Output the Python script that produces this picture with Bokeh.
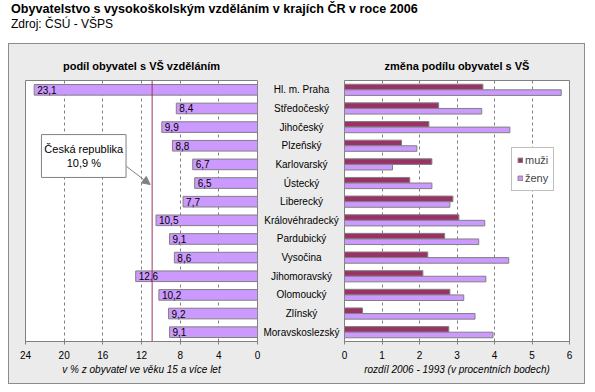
from bokeh.plotting import figure
from bokeh.models import (Range1d, FactorRange, FixedTicker, Span, BoxAnnotation,
                          Label, Arrow, NormalHead, ColumnDataSource, Div)
from bokeh.layouts import row, column
from bokeh.transform import dodge
from bokeh.embed import file_html
from bokeh.resources import INLINE
from bokeh.core.properties import value

# ---------------- data ----------------
title_text = "Obyvatelstvo s vysokoškolským vzděláním v krajích ČR v roce 2006"
source_text = "Zdroj: ČSÚ - VŠPS"
left_title = "podíl obyvatel s VŠ vzděláním"
right_title = "změna podílu obyvatel s VŠ"
left_axis_label = "v % z obyvatel ve věku 15 a více let"
right_axis_label = "rozdíl 2006 - 1993 (v procentních bodech)"

regions = ["Hl. m. Praha", "Středočeský", "Jihočeský", "Plzeňský", "Karlovarský",
           "Ústecký", "Liberecký", "Královéhradecký", "Pardubický", "Vysočina",
           "Jihomoravský", "Olomoucký", "Zlínský", "Moravskoslezský"]
podil = [23.1, 8.4, 9.9, 8.8, 6.7, 6.5, 7.7, 10.5, 9.1, 8.6, 12.6, 10.2, 9.2, 9.1]
zmena_muzi = [3.69, 2.51, 2.25, 1.52, 2.33, 1.74, 2.89, 3.05, 2.67, 2.22, 2.09, 2.81, 0.48, 2.78]
zmena_zeny = [5.78, 3.66, 4.41, 1.93, 1.28, 2.33, 2.81, 3.74, 3.58, 4.38, 3.77, 3.18, 3.48, 3.96]
cr_value = 10.9
cr_name = "Česká republika"
left_ticks = [0, 4, 8, 12, 16, 20, 24]
right_ticks = [0, 1, 2, 3, 4, 5, 6]
series_names = ["muži", "ženy"]

# ---------------- styles ----------------
FONT = "Liberation Sans"
LAV = "#cc99ff"
MAG = "#993366"
GRAY = "#808080"
BOX_BG = "#ebebeb"

def fmt(v):
    return f"{v:.1f}".replace(".", ",")

src = ColumnDataSource(dict(region=regions, podil=podil, label=[fmt(v) for v in podil],
                            muzi=zmena_muzi, zeny=zmena_zeny))

yr = FactorRange(factors=regions[::-1], range_padding=0)

H = 339
TOP = 36
BOT = 42


def style_fig(p, ticks, axis_label):
    p.background_fill_color = "white"
    p.border_fill_color = BOX_BG
    p.outline_line_color = GRAY
    p.outline_line_width = 1
    p.yaxis.visible = False
    p.ygrid.visible = False
    p.xaxis.ticker = FixedTicker(ticks=ticks)
    p.xaxis.axis_label = axis_label
    p.xaxis.axis_label_text_font_style = "italic"
    p.xaxis.axis_label_text_font_size = "10px"
    p.xaxis.axis_label_text_font = FONT
    p.xaxis.axis_label_text_color = "black"
    p.xaxis.axis_label_standoff = 2
    p.xaxis.major_label_text_font_size = "10px"
    p.xaxis.major_label_text_font = FONT
    p.xaxis.major_label_text_color = "black"
    p.xaxis.major_label_standoff = 6
    p.xaxis.axis_line_color = GRAY
    p.xaxis.major_tick_line_color = GRAY
    p.xaxis.minor_tick_line_color = None
    p.xaxis.major_tick_in = 0
    p.xaxis.major_tick_out = 3
    p.xgrid.grid_line_color = GRAY
    p.xgrid.grid_line_dash = "3 3"
    p.title.align = "center"
    p.title.padding = 4
    p.title.text_font = FONT
    p.title.text_font_size = "11px"
    p.title.text_font_style = "bold"
    p.title.text_color = "black"


# ---------------- left panel ----------------
left = figure(width=253, height=H, x_range=Range1d(24, 0), y_range=yr,
              output_backend="svg", toolbar_location=None, title=left_title,
              min_border_left=16, min_border_right=5, min_border_top=TOP, min_border_bottom=BOT)
style_fig(left, left_ticks, left_axis_label)

left.hbar(y="region", left=0, right="podil", height=0.57, fill_color=LAV,
          line_color=GRAY, line_width=1, source=src)
left.text(x="podil", y="region", text="label", x_offset=3, text_align="left",
          text_baseline="middle", text_font_size="10px", text_font=value(FONT),
          text_color="black", source=src)

left.add_layout(Span(location=cr_value, dimension="height", line_color=MAG, line_width=1))

left.add_layout(BoxAnnotation(left=22.35, right=13.6, bottom=8.80, top=11.10,
                              fill_color="white", fill_alpha=1.0,
                              line_color=GRAY, line_width=1, line_alpha=1.0))
left.add_layout(Label(x=17.97, y=9.95, text=f"{cr_name}\n{fmt(cr_value)} %",
                      text_align="center", text_baseline="middle",
                      text_font_size="11px", text_font=FONT, text_color="black"))
left.add_layout(Arrow(end=NormalHead(size=8, fill_color=GRAY, line_color=GRAY),
                      x_start=13.55, y_start=9.39, x_end=11.1, y_end=8.42,
                      line_color=GRAY, line_width=1))

# ---------------- middle labels ----------------
mid = figure(width=78, height=H, x_range=Range1d(0, 1), y_range=yr,
             output_backend="svg", toolbar_location=None,
             min_border_left=0, min_border_right=0, min_border_top=TOP, min_border_bottom=BOT)
mid.axis.visible = False
mid.grid.visible = False
mid.outline_line_color = None
mid.background_fill_color = BOX_BG
mid.border_fill_color = BOX_BG
mid.text(x=0.5, y="region", text="region", text_align="center", text_baseline="middle",
         text_font_size="10px", text_font=value(FONT), text_color="black", source=src)

# ---------------- right panel ----------------
right = figure(width=244, height=H, x_range=Range1d(0, 6), y_range=yr,
               output_backend="svg", toolbar_location=None, title=right_title,
               min_border_left=4, min_border_right=15, min_border_top=TOP, min_border_bottom=BOT)
style_fig(right, right_ticks, right_axis_label)

right.hbar(y=dodge("region", 0.15, range=yr), left=0, right="muzi", height=0.3,
           fill_color=MAG, line_color=GRAY, line_width=1, source=src,
           legend_label=series_names[0])
right.hbar(y=dodge("region", -0.15, range=yr), left=0, right="zeny", height=0.3,
           fill_color=LAV, line_color=GRAY, line_width=1, source=src,
           legend_label=series_names[1])

lg = right.legend[0]
lg.location = (167, 150)
lg.background_fill_color = "white"
lg.background_fill_alpha = 1.0
lg.border_line_color = GRAY
lg.border_line_width = 1
lg.label_text_font = FONT
lg.label_text_font_size = "11px"
lg.label_height = 14
lg.glyph_height = 6
lg.glyph_width = 6
lg.label_standoff = 2
lg.spacing = 4
lg.padding = 5
lg.margin = 0

# ---------------- page ----------------
head = Div(text=(
    '<div style="padding-top:1px; padding-left:11px; '
    'font-family:\'Liberation Sans\', Arial, sans-serif; color:black; white-space:nowrap">'
    f'<div style="font-weight:bold; font-size:12.6px; line-height:16px">{title_text}</div>'
    f'<div style="font-size:12px; line-height:15px">{source_text}</div></div>'),
    width=580, height=43, margin=(0, 0, 0, 0))

panels = row(left, mid, right, margin=(0, 0, 0, 8),
             styles={"background-color": BOX_BG, "border": "1px solid #8c8c8c"})
layout = column(head, panels, margin=(0, 0, 0, 0))

open("out.html", "w").write(file_html(layout, INLINE))
